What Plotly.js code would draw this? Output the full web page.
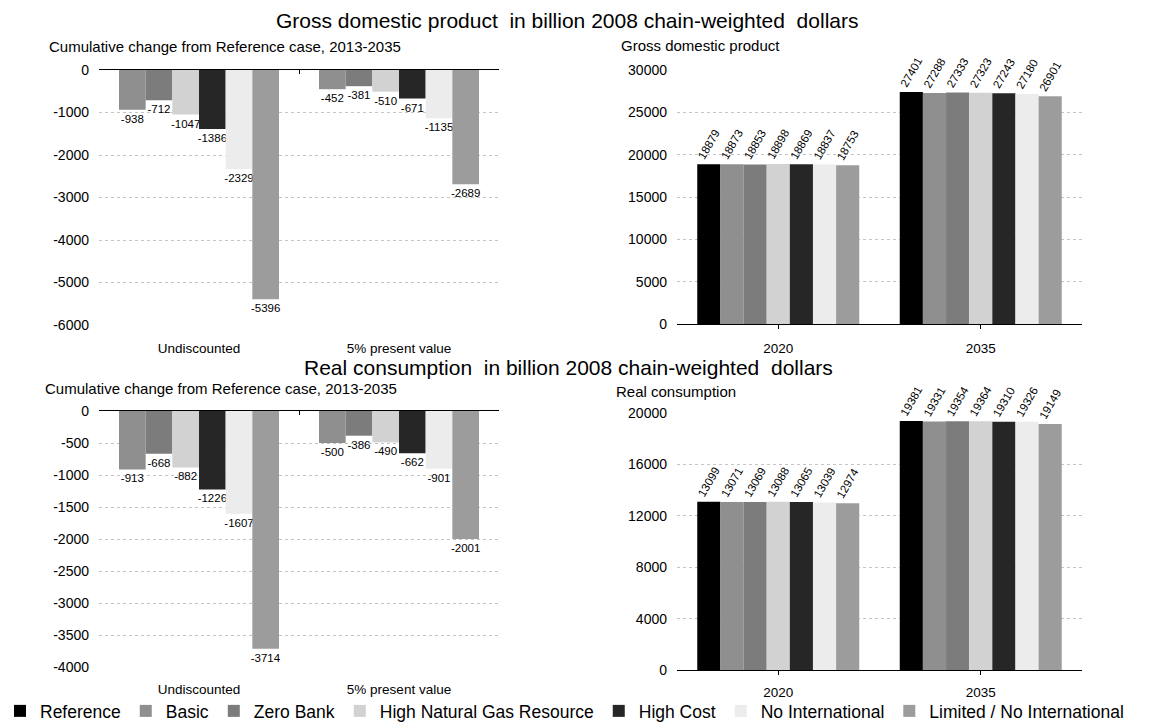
<!DOCTYPE html>
<html>
<head>
<meta charset="utf-8">
<script src="https://cdn.plot.ly/plotly-3.0.1.min.js"></script>
<style>html,body{margin:0;padding:0;background:#fff}#chart{width:1166px;height:723px}</style>
</head>
<body>
<div id="chart"></div>
<script>
const series = ["Reference","Basic","Zero Bank","High Natural Gas Resource","High Cost","No International","Limited / No International"];
const colors = ["#000000","#8f8f8f","#7c7c7c","#d2d2d2","#262626","#ececec","#9c9c9c"];

const changeCats = ["Undiscounted","5% present value"];
const yearCats = ["2020","2035"];

// GDP cumulative change from Reference (Basic..Limited)
const gdpChange = {
  "Basic": [-938,-452],
  "Zero Bank": [-712,-381],
  "High Natural Gas Resource": [-1047,-510],
  "High Cost": [-1386,-671],
  "No International": [-2329,-1135],
  "Limited / No International": [-5396,-2689]
};
const gdpLevel = {
  "Reference": [18879,27401],
  "Basic": [18873,27288],
  "Zero Bank": [18853,27333],
  "High Natural Gas Resource": [18898,27323],
  "High Cost": [18869,27243],
  "No International": [18837,27180],
  "Limited / No International": [18753,26901]
};
const consChange = {
  "Basic": [-913,-500],
  "Zero Bank": [-668,-386],
  "High Natural Gas Resource": [-882,-490],
  "High Cost": [-1226,-662],
  "No International": [-1607,-901],
  "Limited / No International": [-3714,-2001]
};
const consLevel = {
  "Reference": [13099,19381],
  "Basic": [13071,19331],
  "Zero Bank": [13069,19354],
  "High Natural Gas Resource": [13088,19364],
  "High Cost": [13065,19310],
  "No International": [13039,19326],
  "Limited / No International": [12974,19149]
};

// tick labels
const gdpChangeTicks = [0,-1000,-2000,-3000,-4000,-5000,-6000];
const gdpLevelTicks = [0,5000,10000,15000,20000,25000,30000];
const consChangeTicks = [0,-500,-1000,-1500,-2000,-2500,-3000,-3500,-4000];
const consLevelTicks = [0,4000,8000,12000,16000,20000];

const FONT = "Liberation Sans, Arial, sans-serif";
const traces = [];
function addChange(data, xa, ya){
  series.forEach((s,i)=>{
    if(!(s in data)) return;
    traces.push({type:"bar", x:changeCats, y:data[s], xaxis:xa, yaxis:ya, name:s,
      legendgroup:s, showlegend:false,
      marker:{color:colors[i], line:{width:0}},
      text:data[s].map(String), textposition:"outside", cliponaxis:false, constraintext:"none",
      textfont:{family:FONT,size:11.5,color:"#000"}, hoverinfo:"x+y+name"});
  });
}
function addLevel(data, xa, ya, legend){
  series.forEach((s,i)=>{
    traces.push({type:"bar", x:yearCats, y:data[s], xaxis:xa, yaxis:ya, name:s,
      legendgroup:s, showlegend:legend,
      marker:{color:colors[i], line:{width:0}},
      text:data[s].map(String), textposition:"outside", textangle:-60, cliponaxis:false, constraintext:"none",
      textfont:{family:FONT,size:11.5,color:"#000"}, hoverinfo:"x+y+name"});
  });
}
addChange(gdpChange,"x","y");
addLevel(gdpLevel,"x2","y2",true);
addChange(consChange,"x3","y3");
addLevel(consLevel,"x4","y4",false);

const H=723, W=1166;
const px = (a,b)=>[a/W,b/W];
const py = (top,bot)=>[1-bot/H,1-top/H];
const ticksOf = v => ({tickmode:"array", tickvals:v, ticktext:v.map(String)});
const grid = {showgrid:true, gridcolor:"#c4c4c4", griddash:"dot", gridwidth:1, zeroline:false,
  showline:false, ticks:"", tickfont:{family:FONT,size:14,color:"#000"}, ticklabelstandoff:9};
const xcat = {showgrid:false, zeroline:false, ticks:"", tickfont:{family:FONT,size:13.5,color:"#000"}};

const layout = {
  width:W, height:H, margin:{l:0,r:0,t:0,b:0,autoexpand:false}, paper_bgcolor:"#fff", plot_bgcolor:"#fff",
  barmode:"group", bargap:0.2, bargroupgap:0,
  font:{family:FONT,color:"#000"},
  xaxis:Object.assign({}, xcat, {domain:px(99,499), anchor:"y", showline:false, ticklabelstandoff:13}),
  yaxis:Object.assign({}, grid, ticksOf(gdpChangeTicks), {domain:py(70,325), range:[-6000,0], anchor:"x"}),
  xaxis2:Object.assign({}, xcat, {domain:px(677,1082), anchor:"y2", showline:true, linecolor:"#000", linewidth:1,
    ticks:"outside", ticklen:4, tickcolor:"#000", tickson:"boundaries", ticklabelstandoff:8}),
  yaxis2:Object.assign({}, grid, ticksOf(gdpLevelTicks), {domain:py(70,324), range:[0,30000], anchor:"x2"}),
  xaxis3:Object.assign({}, xcat, {domain:px(99,499), anchor:"y3", showline:false, ticklabelstandoff:12}),
  yaxis3:Object.assign({}, grid, ticksOf(consChangeTicks), {domain:py(411,667), range:[-4000,0], anchor:"x3"}),
  xaxis4:Object.assign({}, xcat, {domain:px(677,1082), anchor:"y4", showline:true, linecolor:"#000", linewidth:1,
    ticks:"outside", ticklen:4, tickcolor:"#000", tickson:"boundaries", ticklabelstandoff:6}),
  yaxis4:Object.assign({}, grid, ticksOf(consLevelTicks), {domain:py(413,670), range:[0,20000], anchor:"x4"}),
  // zero-line axes along the top of the change charts
  xaxis5:{overlaying:"x", anchor:"y", side:"top", matches:"x", showline:true, linecolor:"#000", linewidth:1,
    ticks:"inside", ticklen:4, tickcolor:"#000", tickson:"boundaries", showticklabels:false, showgrid:false, zeroline:false},
  xaxis6:{overlaying:"x3", anchor:"y3", side:"top", matches:"x3", showline:true, linecolor:"#000", linewidth:1,
    ticks:"inside", ticklen:4, tickcolor:"#000", tickson:"boundaries", showticklabels:false, showgrid:false, zeroline:false},
  showlegend:true,
  legend:{orientation:"h", x:0, xanchor:"left", y:1-711/H, yanchor:"middle",
    font:{family:FONT,size:17.5,color:"#000"}, traceorder:"normal", itemwidth:30, tracegroupgap:0,
    bgcolor:"rgba(0,0,0,0)"},
  annotations:[
    {text:"Gross domestic product  in billion 2008 chain-weighted  dollars", xref:"paper", yref:"paper",
      x:567/W, y:1-20/H, xanchor:"center", yanchor:"middle", showarrow:false, font:{family:FONT,size:21}},
    {text:"Real consumption  in billion 2008 chain-weighted  dollars", xref:"paper", yref:"paper",
      x:568/W, y:1-367/H, xanchor:"center", yanchor:"middle", showarrow:false, font:{family:FONT,size:21}},
    {text:"Cumulative change from Reference case, 2013-2035", xref:"paper", yref:"paper",
      x:47/W, y:1-46/H, xanchor:"left", yanchor:"middle", showarrow:false, font:{family:FONT,size:15}},
    {text:"Cumulative change from Reference case, 2013-2035", xref:"paper", yref:"paper",
      x:43/W, y:1-388/H, xanchor:"left", yanchor:"middle", showarrow:false, font:{family:FONT,size:15}},
    {text:"Gross domestic product", xref:"paper", yref:"paper",
      x:619/W, y:1-45/H, xanchor:"left", yanchor:"middle", showarrow:false, font:{family:FONT,size:15}},
    {text:"Real consumption", xref:"paper", yref:"paper",
      x:614/W, y:1-391/H, xanchor:"left", yanchor:"middle", showarrow:false, font:{family:FONT,size:15}}
  ]
};
// empty traces to activate the overlay zero-line axes
traces.push({type:"bar", x:changeCats, y:[null,null], xaxis:"x5", yaxis:"y", showlegend:false, hoverinfo:"skip"});
traces.push({type:"bar", x:changeCats, y:[null,null], xaxis:"x6", yaxis:"y3", showlegend:false, hoverinfo:"skip"});
Plotly.newPlot("chart", traces, layout, {displayModeBar:false, staticPlot:true});
</script>
</body>
</html>
